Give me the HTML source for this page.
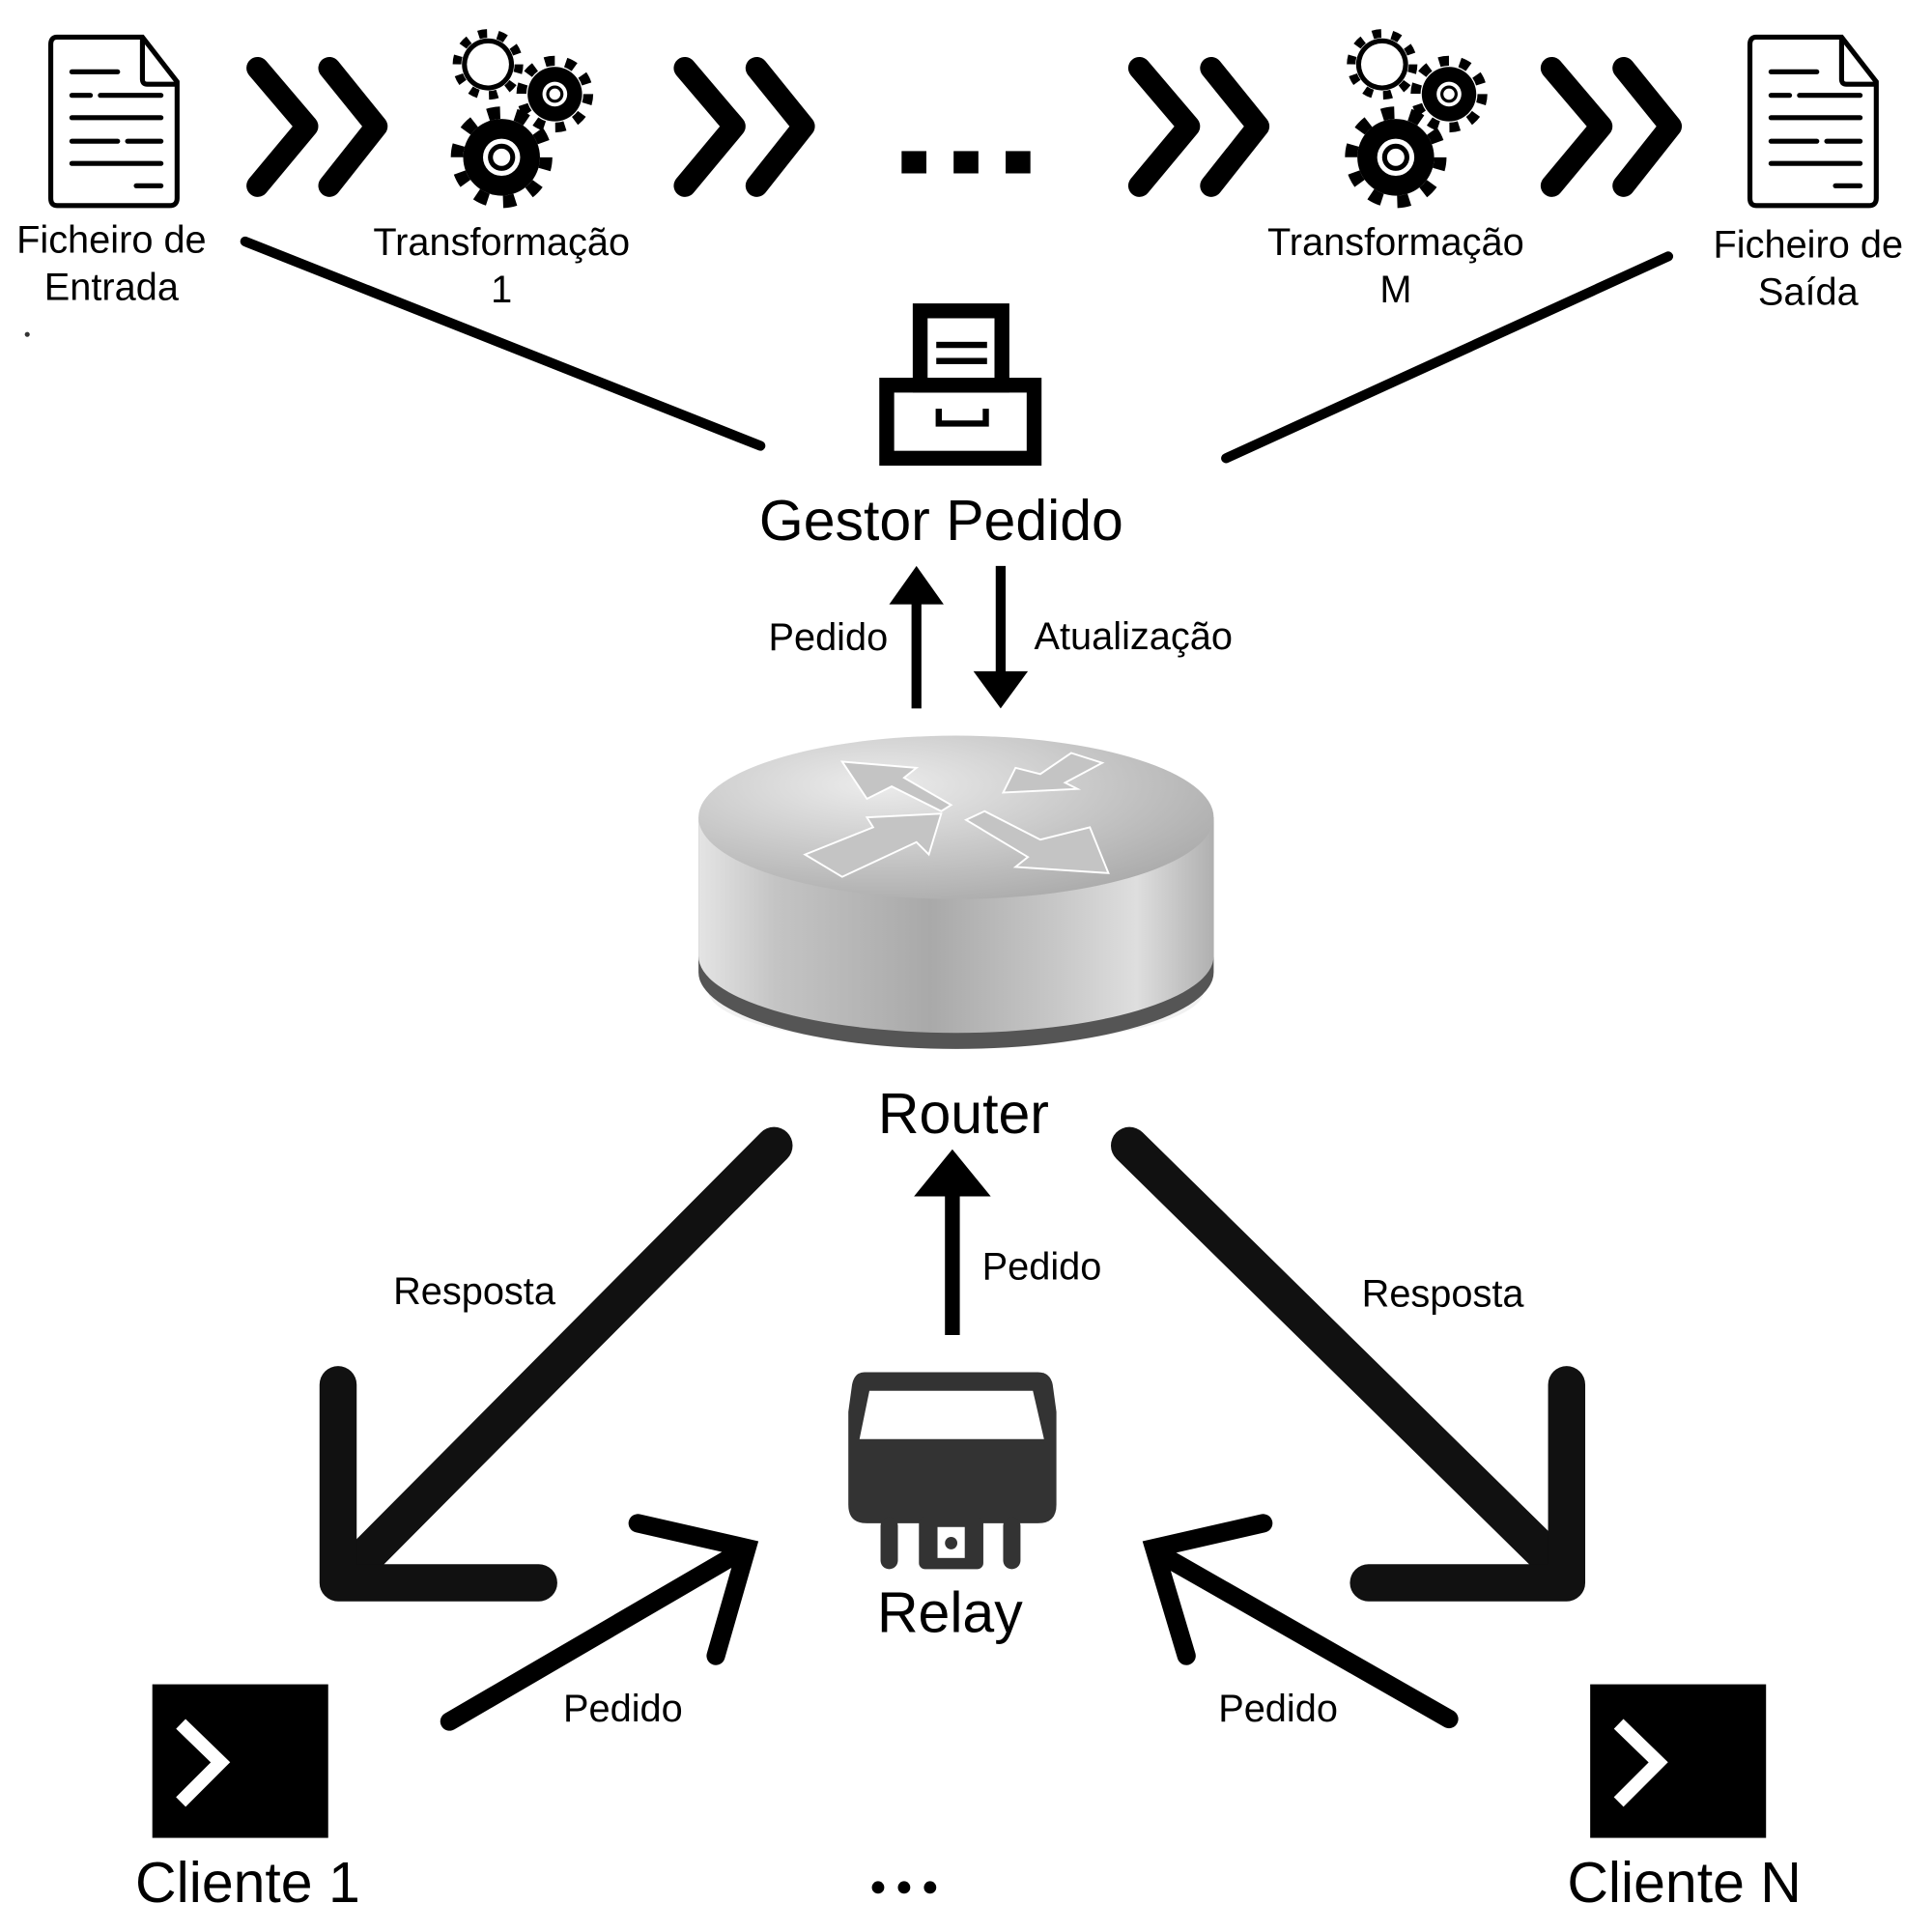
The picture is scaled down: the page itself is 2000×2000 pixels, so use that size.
<!DOCTYPE html>
<html><head><meta charset="utf-8"><style>
html,body{margin:0;padding:0;background:#fff;}
svg{display:block;}
text{font-family:"Liberation Sans",sans-serif;fill:#000;}
</style></head><body>
<svg width="2000" height="2000" viewBox="0 0 1560 1560" xmlns="http://www.w3.org/2000/svg">
<defs>
<radialGradient id="top" cx="0.35" cy="0.3" r="0.8">
<stop offset="0" stop-color="#ececec"/><stop offset="1" stop-color="#a8a8a8"/></radialGradient>
<linearGradient id="side" x1="0" x2="1" y1="0" y2="0">
<stop offset="0" stop-color="#e4e4e4"/><stop offset="0.15" stop-color="#c4c4c4"/><stop offset="0.45" stop-color="#a9a9a9"/><stop offset="0.7" stop-color="#c8c8c8"/><stop offset="0.85" stop-color="#dedede"/><stop offset="1" stop-color="#b0b0b0"/></linearGradient>
<g id="doc">
<path d="M46 30 H115 L143 66 V160 Q143 166 137 166 H46 Q41 166 41 160 V36 Q41 30 46 30 Z" fill="none" stroke="#000" stroke-width="4"/>
<path d="M115 30 V64 Q115 68 119 68 H143" fill="none" stroke="#000" stroke-width="4"/>
<g stroke="#000" stroke-width="4" stroke-linecap="round">
<line x1="58" y1="58" x2="95" y2="58"/>
<line x1="58" y1="77" x2="73" y2="77"/><line x1="81" y1="77" x2="130" y2="77"/>
<line x1="58" y1="95" x2="130" y2="95"/>
<line x1="58" y1="114" x2="95" y2="114"/><line x1="103" y1="114" x2="130" y2="114"/>
<line x1="58" y1="132" x2="130" y2="132"/>
<line x1="110" y1="150" x2="130" y2="150"/>
</g></g>
<g id="chev" fill="none" stroke="#000" stroke-width="18" stroke-linecap="round" stroke-linejoin="round">
<polyline points="208,55 248,102 208,150"/><polyline points="266,55 304,102 266,150"/>
</g>
<g id="gears">
<circle cx="405" cy="127" r="31" fill="#000"/>
<circle cx="405" cy="127" r="36" fill="none" stroke="#000" stroke-width="10" stroke-dasharray="10 12.6"/>
<circle cx="405" cy="127" r="15" fill="#fff"/><circle cx="405" cy="127" r="11" fill="#000"/><circle cx="405" cy="127" r="7" fill="#fff"/>
<circle cx="448" cy="76" r="22" fill="#000"/>
<circle cx="448" cy="76" r="27" fill="none" stroke="#000" stroke-width="8" stroke-dasharray="8 9"/>
<circle cx="448" cy="76" r="10" fill="#fff"/><circle cx="448" cy="76" r="7" fill="#000"/><circle cx="448" cy="76" r="4.5" fill="#fff"/>
<circle cx="394" cy="52" r="21" fill="#000"/>
<circle cx="394" cy="52" r="25" fill="none" stroke="#000" stroke-width="7" stroke-dasharray="7 8.7"/>
<circle cx="394" cy="52" r="17" fill="#fff"/>
</g>
</defs>

<use href="#doc"/>
<use href="#doc" transform="translate(1372,0)"/>
<use href="#chev"/>
<use href="#chev" transform="translate(345,0)"/>
<use href="#chev" transform="translate(712,0)"/>
<use href="#chev" transform="translate(1045,0)"/>
<use href="#gears"/>
<use href="#gears" transform="translate(722,0)"/>
<rect x="728" y="122" width="20" height="18" fill="#000"/>
<rect x="770" y="122" width="20" height="18" fill="#000"/>
<rect x="812" y="122" width="20" height="18" fill="#000"/>

<g font-size="31" text-anchor="middle">
<text x="90" y="204">Ficheiro de</text><text x="90" y="242">Entrada</text>
<text x="405" y="206">Transformação</text><text x="405" y="244">1</text>
<text x="1127" y="206">Transformação</text><text x="1127" y="244">M</text>
<text x="1460" y="208">Ficheiro de</text><text x="1460" y="246">Saída</text>
</g>
<circle cx="22" cy="270" r="2" fill="#333"/>
<line x1="198" y1="195" x2="614" y2="360" stroke="#000" stroke-width="8" stroke-linecap="round"/>
<line x1="1347" y1="207" x2="990" y2="370" stroke="#000" stroke-width="8" stroke-linecap="round"/>

<!-- Gestor -->
<rect x="743" y="251" width="66" height="60" fill="none" stroke="#000" stroke-width="12"/>
<rect x="716" y="311" width="119" height="59" fill="none" stroke="#000" stroke-width="12"/>
<rect x="756" y="276" width="41" height="5" fill="#000"/><rect x="756" y="289" width="41" height="5" fill="#000"/>
<path d="M758 330 V342 H796 V330" fill="none" stroke="#000" stroke-width="5"/>
<text x="760" y="436" font-size="46" text-anchor="middle">Gestor Pedido</text>

<line x1="740" y1="572" x2="740" y2="485" stroke="#000" stroke-width="8"/>
<polygon points="718,488 762,488 740,457" fill="#000"/>
<line x1="808" y1="457" x2="808" y2="545" stroke="#000" stroke-width="8"/>
<polygon points="786,542 830,542 808,572" fill="#000"/>
<text x="717" y="525" font-size="31" text-anchor="end">Pedido</text>
<text x="835" y="524" font-size="31">Atualização</text>

<!-- Router -->
<ellipse cx="772" cy="800" rx="200" ry="45" fill="#e8e8e8" opacity="0.6"/>
<path d="M564 660 V785 A208 62 0 0 0 980 785 V660 Z" fill="#555"/>
<path d="M564 660 V772 A208 62 0 0 0 980 772 V660 Z" fill="url(#side)"/>
<ellipse cx="772" cy="660" rx="208" ry="66" fill="url(#top)"/>
<g stroke="#fff" stroke-width="1.5" fill="#c4c4c4">
<polygon points="680,615 740,620 730,628 768,650 760,655 720,635 700,645" />
<polygon points="865,608 890,616 860,632 870,637 810,640 820,620 840,625" />
<polygon points="650,690 705,668 700,660 760,657 750,690 740,680 680,708" />
<polygon points="780,662 795,655 840,678 880,668 895,705 820,700 830,692" />
</g>
<text x="778" y="915" font-size="46" text-anchor="middle">Router</text>

<!-- big response arrows -->
<g stroke="#111" stroke-width="30" stroke-linecap="round" stroke-linejoin="round" fill="none">
<line x1="625" y1="925" x2="290" y2="1262"/>
<polyline points="273,1118 273,1278 435,1278"/>
<line x1="912" y1="925" x2="1255" y2="1262"/>
<polyline points="1265,1118 1265,1278 1105,1278"/>
</g>
<text x="383" y="1053" font-size="31" text-anchor="middle">Resposta</text>
<text x="1165" y="1055" font-size="31" text-anchor="middle">Resposta</text>

<line x1="769" y1="1078" x2="769" y2="960" stroke="#000" stroke-width="12"/>
<polygon points="738,966 800,966 769,928" fill="#000"/>
<text x="793" y="1033" font-size="31">Pedido</text>

<!-- Relay -->
<g fill="#333">
<path d="M698 1108 H838 Q848 1108 850 1118 L853 1140 V1215 Q853 1230 838 1230 H700 Q685 1230 685 1215 V1140 L688 1118 Q690 1108 698 1108 Z"/>
<rect x="711" y="1225" width="14" height="42" rx="7"/>
<rect x="810" y="1225" width="14" height="42" rx="7"/>
<rect x="742" y="1225" width="52" height="42" rx="5"/>
</g>
<polygon points="702,1123 834,1123 843,1162 694,1162" fill="#fff"/>
<rect x="757" y="1233" width="22" height="25" fill="#fff"/>
<circle cx="768" cy="1246" r="5" fill="#333"/>
<text x="767" y="1318" font-size="46" text-anchor="middle">Relay</text>

<!-- client arrows -->
<g stroke="#000" stroke-width="15" stroke-linecap="round" fill="none">
<line x1="363" y1="1390" x2="598" y2="1253"/>
<polyline points="515,1230 603,1250 578,1337"/>
<line x1="1170" y1="1388" x2="937" y2="1255"/>
<polyline points="1020,1230 932,1250 958,1337"/>
</g>
<text x="503" y="1390" font-size="31" text-anchor="middle">Pedido</text>
<text x="1032" y="1390" font-size="31" text-anchor="middle">Pedido</text>

<!-- terminals -->
<rect x="123" y="1360" width="142" height="124" fill="#000"/>
<polyline points="146,1392 178,1423 146,1455" fill="none" stroke="#fff" stroke-width="11"/>
<rect x="1284" y="1360" width="142" height="124" fill="#000"/>
<polyline points="1307,1392 1339,1423 1307,1455" fill="none" stroke="#fff" stroke-width="11"/>
<text x="200" y="1536" font-size="46" text-anchor="middle">Cliente 1</text>
<text x="1360" y="1536" font-size="46" text-anchor="middle">Cliente N</text>
<circle cx="709" cy="1524" r="5" fill="#000"/><circle cx="730" cy="1524" r="5" fill="#000"/><circle cx="751" cy="1524" r="5" fill="#000"/>
</svg>
</body></html>
